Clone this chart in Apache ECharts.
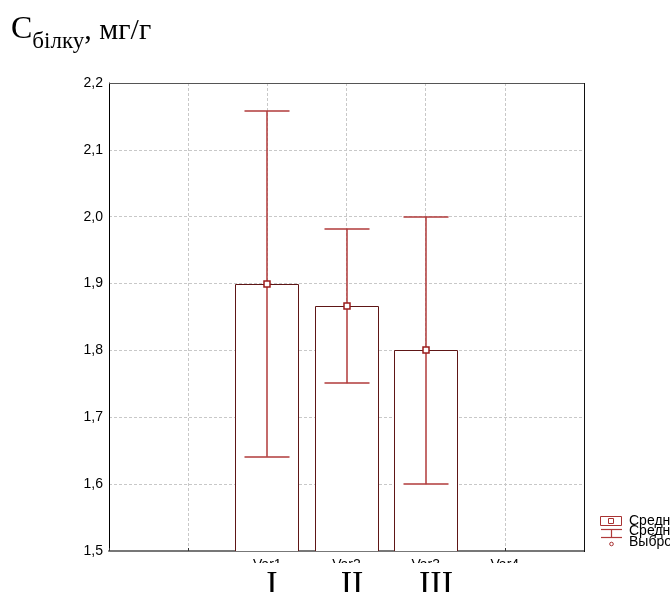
<!DOCTYPE html>
<html>
<head>
<meta charset="utf-8">
<script src="https://cdn.jsdelivr.net/npm/echarts@6/dist/echarts.min.js"></script>
<style>html,body{margin:0;padding:0;background:#fff}#c{width:670px;height:592px}</style>
</head>
<body>
<div id="c"></div>
<script>
// Category slots on the x axis (blank slots are padding positions of the original plot)
const categories = ['', '', 'Var1', 'Var2', 'Var3', 'Var4', ''];
// Means and mean ± SD for Var1..Var3
const groupIndex = [2, 3, 4];
const means = [1.90, 1.866, 1.80];
const lowerSD = [1.641, 1.751, 1.60];
const upperSD = [2.158, 1.982, 2.00];
const yTicks = [1.5, 1.6, 1.7, 1.8, 1.9, 2.0, 2.1, 2.2];
const groupLabels = ['I', 'II', 'III'];
const legendLabels = ['Среднее', 'Среднее±Ст.откл.', 'Выбросы'];

const boxColor = '#5e1616';
const whiskColor = '#b03a3a';

const data = groupIndex.map((g, i) => [g, means[i], lowerSD[i], upperSD[i]]);

const chart = echarts.init(document.getElementById('c'), null, {renderer: 'canvas'});

function renderItem(params, api) {
  const x = api.value(0);
  const m = api.value(1), lo = api.value(2), hi = api.value(3);
  const pm = api.coord([x, m]);
  const pBase = api.coord([x, 1.5]);
  const pLo = api.coord([x, lo]);
  const pHi = api.coord([x, hi]);
  const barW = 63, capW = 45;
  const cx = Math.round(pm[0]);
  const children = [
    {type: 'rect', shape: {x: cx - Math.round(barW / 2) + 0.5, y: Math.round(pm[1]) + 0.5, width: barW, height: pBase[1] - pm[1] + 2},
     style: {fill: '#fff', stroke: boxColor, lineWidth: 1}},
    {type: 'line', shape: {x1: cx, y1: pHi[1], x2: cx, y2: pLo[1]}, style: {stroke: whiskColor, lineWidth: 1.5}},
    {type: 'line', shape: {x1: cx - capW / 2, y1: Math.round(pHi[1]), x2: cx + capW / 2, y2: Math.round(pHi[1])}, style: {stroke: whiskColor, lineWidth: 1.5}},
    {type: 'line', shape: {x1: cx - capW / 2, y1: Math.round(pLo[1]), x2: cx + capW / 2, y2: Math.round(pLo[1])}, style: {stroke: whiskColor, lineWidth: 1.5}},
    {type: 'rect', shape: {x: cx - 3, y: Math.round(pm[1]) - 3, width: 6, height: 6}, style: {fill: '#fff', stroke: '#9a1c1c', lineWidth: 1.5}}
  ];
  return {type: 'group', children: children};
}

const option = {
  animation: false,
  backgroundColor: '#fff',
  grid: {left: 109, top: 83, right: 86, bottom: 41, show: false},
  xAxis: {
    type: 'category',
    data: categories,
    boundaryGap: false,
    axisLine: {show: true, lineStyle: {color: '#777', width: 2}},
    axisTick: {show: true, inside: true, length: 3, lineStyle: {color: '#333'}},
    axisLabel: {show: true, interval: 0, margin: 7, fontFamily: 'Liberation Sans, Arial', fontSize: 14, color: '#000'},
    splitLine: {show: true, lineStyle: {color: '#c8c8c8', type: [3, 2]}}
  },
  yAxis: {
    type: 'value',
    min: yTicks[0], max: yTicks[yTicks.length - 1], interval: 0.1,
    axisLine: {show: true, lineStyle: {color: '#000', width: 1}},
    axisTick: {show: false},
    axisLabel: {fontFamily: 'Liberation Sans, Arial', fontSize: 14, color: '#000', margin: 6,
      formatter: v => v.toFixed(1).replace('.', ',')},
    splitLine: {show: true, lineStyle: {color: '#c8c8c8', type: [3, 2]}}
  },
  series: [{
    type: 'custom',
    renderItem: renderItem,
    data: data,
    clip: true,
    z: 5
  }],
  graphic: [
    // top and right frame
    {type: 'line', z: 50, shape: {x1: 109, y1: 83.5, x2: 584, y2: 83.5}, style: {stroke: '#555', lineWidth: 1}},
    {type: 'line', z: 50, shape: {x1: 584.5, y1: 83, x2: 584.5, y2: 552}, style: {stroke: '#111', lineWidth: 1}},
    // mask partially hiding the x labels
    {type: 'rect', z: 90, shape: {x: 100, y: 563, width: 480, height: 30}, style: {fill: '#fff'}},
    {type: 'text', z: 100, style: {text: groupLabels[0], x: 272, y: 568, align: 'center', verticalAlign: 'top', font: '34px "Liberation Serif", "Times New Roman", serif', fill: '#000'}},
    {type: 'text', z: 100, style: {text: groupLabels[1], x: 352, y: 568, align: 'center', verticalAlign: 'top', font: '34px "Liberation Serif", "Times New Roman", serif', fill: '#000'}},
    {type: 'text', z: 100, style: {text: groupLabels[2], x: 436, y: 568, align: 'center', verticalAlign: 'top', font: '34px "Liberation Serif", "Times New Roman", serif', fill: '#000'}},
    // title
    {type: 'text', z: 100, left: 11, top: 14, style: {
      text: '{a|С}{b|білку}{c|, мг/г}',
      rich: {
        a: {fontFamily: 'Liberation Serif', fontSize: 32, color: '#000', verticalAlign: 'bottom'},
        b: {fontFamily: 'Liberation Serif', fontSize: 23, color: '#000', verticalAlign: 'bottom', padding: [0, 0, -7, 0]},
        c: {fontFamily: 'Liberation Serif', fontSize: 30, color: '#000', verticalAlign: 'bottom'}
      }
    }},
    // legend
    {type: 'rect', z: 100, shape: {x: 600.5, y: 516.5, width: 21, height: 9}, style: {fill: '#fff', stroke: '#a83232', lineWidth: 1}},
    {type: 'rect', z: 100, shape: {x: 608.5, y: 518.5, width: 5, height: 5}, style: {fill: '#fff', stroke: '#a83232', lineWidth: 1}},
    {type: 'line', z: 100, shape: {x1: 601, y1: 529.5, x2: 622, y2: 529.5}, style: {stroke: '#b03a3a', lineWidth: 1.2}},
    {type: 'line', z: 100, shape: {x1: 611.5, y1: 529, x2: 611.5, y2: 538}, style: {stroke: '#b03a3a', lineWidth: 1.2}},
    {type: 'line', z: 100, shape: {x1: 601, y1: 537.5, x2: 622, y2: 537.5}, style: {stroke: '#b03a3a', lineWidth: 1.2}},
    {type: 'circle', z: 100, shape: {cx: 611.5, cy: 544, r: 1.8}, style: {fill: '#fff', stroke: '#a83232', lineWidth: 1}},
    {type: 'text', z: 100, style: {text: legendLabels[0], x: 629, y: 521, verticalAlign: 'middle', font: '14px "Liberation Sans", Arial', fill: '#000'}},
    {type: 'text', z: 100, style: {text: legendLabels[1], x: 629, y: 531, verticalAlign: 'middle', font: '14px "Liberation Sans", Arial', fill: '#000'}},
    {type: 'text', z: 100, style: {text: legendLabels[2], x: 629, y: 542, verticalAlign: 'middle', font: '14px "Liberation Sans", Arial', fill: '#000'}}
  ]
};
chart.setOption(option);
</script>
</body>
</html>
